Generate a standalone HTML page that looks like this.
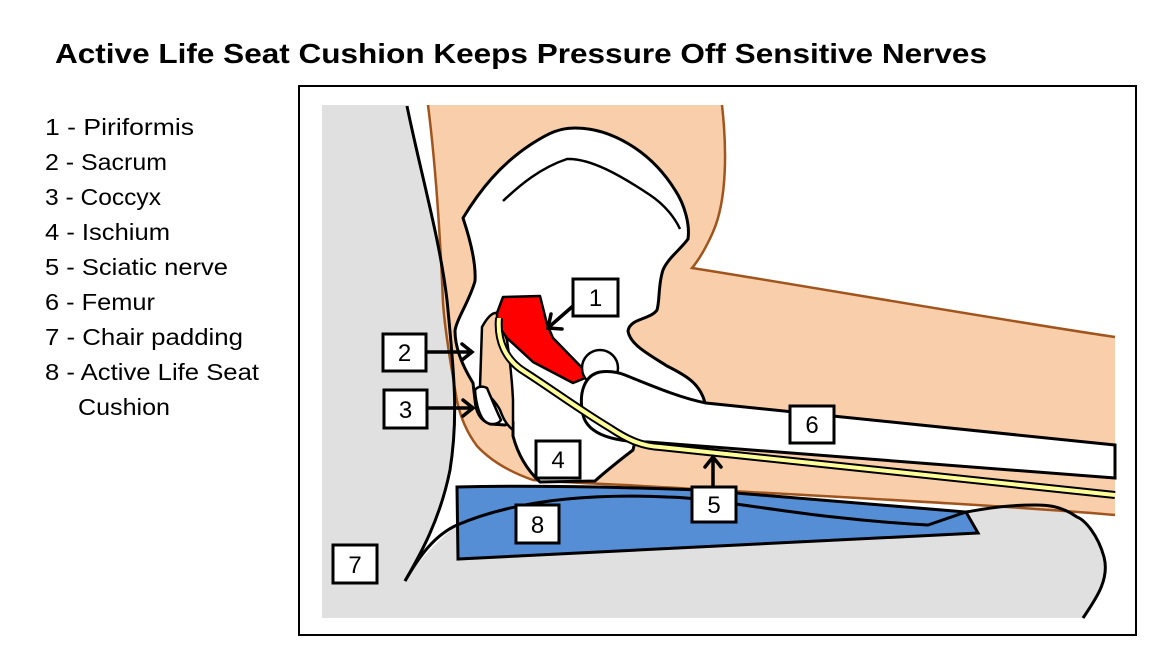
<!DOCTYPE html>
<html><head><meta charset="utf-8"><style>
html,body{margin:0;padding:0;background:#fff;}
svg{display:block;}
text{font-family:"Liberation Sans",sans-serif;}
</style></head><body>
<svg width="1163" height="667" viewBox="0 0 1163 667" xmlns="http://www.w3.org/2000/svg">
<text x="55" y="63" font-size="28" font-weight="bold" textLength="932" lengthAdjust="spacingAndGlyphs">Active Life Seat Cushion Keeps Pressure Off Sensitive Nerves</text>
<g font-size="23" fill="#000">
<text x="45" y="135" textLength="149" lengthAdjust="spacingAndGlyphs">1 - Piriformis</text>
<text x="45" y="170" textLength="122" lengthAdjust="spacingAndGlyphs">2 - Sacrum</text>
<text x="45" y="205" textLength="116" lengthAdjust="spacingAndGlyphs">3 - Coccyx</text>
<text x="45" y="240" textLength="125" lengthAdjust="spacingAndGlyphs">4 - Ischium</text>
<text x="45" y="275" textLength="183" lengthAdjust="spacingAndGlyphs">5 - Sciatic nerve</text>
<text x="45" y="310" textLength="110" lengthAdjust="spacingAndGlyphs">6 - Femur</text>
<text x="45" y="345" textLength="198" lengthAdjust="spacingAndGlyphs">7 - Chair padding</text>
<text x="45" y="380" textLength="214" lengthAdjust="spacingAndGlyphs">8 - Active Life Seat</text>
<text x="78" y="415" textLength="92" lengthAdjust="spacingAndGlyphs">Cushion</text>
</g>
<rect x="299" y="86" width="837" height="549" fill="#fff" stroke="#000" stroke-width="2"/>
<rect x="322" y="105" width="793" height="513" fill="#e0e0e0"/>
<path d="M407,105 L1115,105 L1115,618 L1083,618 C1095,600 1110,580 1104,557 C1098,535 1085,520 1077,517 C1060,505 1045,505 1035,505 C1000,505 980,510 966,512 L928,525 C800,518 720,498 667,497 C600,494 520,498 457,525 C432,545 412,570 405,581 C420,555 440,520 450,470 C458,420 455,380 447,300 C440,240 420,170 407,105 Z" fill="#fff"/>
<path d="M428,105 L722,105 C727,150 727,200 713,232 C705,250 697,262 692,268 C800,285 1000,320 1115,337 L1115,515 C1000,505 800,495 625,485 C580,483 545,481 533,480 C507,471 490,460 477,446 C465,430 460,415 457,401 C450,360 445,330 443,303 C440,230 435,160 428,105 Z" fill="#f9cfab"/>
<path d="M428,105 C435,160 440,230 443,303 C445,330 450,360 457,401 C460,415 465,430 477,446 C490,460 507,471 533,480 C545,481 580,483 625,485 C800,495 1000,505 1115,515" fill="none" stroke="#a0551e" stroke-width="2.5"/>
<path d="M722,105 C727,150 727,200 713,232 C705,250 697,262 692,268 C800,285 1000,320 1115,337" fill="none" stroke="#a0551e" stroke-width="2.5"/>
<path d="M407,106 C420,170 440,240 447,300 C455,380 458,420 450,470 C440,520 420,555 405,581" fill="none" stroke="#000" stroke-width="3"/>
<path d="M457,487 C520,485 620,487 700,490 L966,512 L978,533 L458,559 Z" fill="#558ed5" stroke="#000" stroke-width="3"/>
<path d="M405,581 C420,555 435,535 457,525 C520,498 600,494 667,497 C720,498 800,518 928,525 L966,512 C980,510 1000,505 1035,505 C1045,505 1060,505 1077,517 C1085,520 1098,535 1104,557 C1110,580 1095,600 1083,618" fill="none" stroke="#000" stroke-width="3"/>
<path d="M463,218 C480,190 500,165 530,145 C550,132 560,128 575,128 C610,128 650,150 675,190 C685,205 690,225 688,239 C680,250 668,258 663,270 C658,285 660,300 657,310 C650,320 630,318 628,331 C630,345 650,355 667,366 C685,375 700,383 705,403 L640,420 L633,450 C620,460 605,472 595,481 L540,482 C527,470 518,455 513,436 L513,422 L505,425 L490,424 C480,420 476,412 475,400 L473,383 C465,370 455,350 455,331 C456,320 470,300 475,281 C476,265 472,245 463,218 Z" fill="#fff" stroke="#000" stroke-width="3" stroke-linejoin="round"/>
<path d="M503,201 C520,185 540,168 567,159 C590,158 620,175 650,195 C665,205 675,218 680,229" fill="none" stroke="#000" stroke-width="2.5"/>
<path d="M482,327 C487,318 492,312 497,313 L507,340 C510,360 512,380 513,400 L513,430 C505,424 502,415 500,410 C495,400 485,392 480,387 Z" fill="#f9cfab" stroke="#000" stroke-width="2.5"/>
<path d="M475,390 C478,386 483,386 487,388 C492,400 497,412 501,420 C498,425 490,425 486,422 C480,418 476,405 475,390 Z" fill="#fff" stroke="#000" stroke-width="2.5"/>
<path d="M497,313 L503,297 L540,296 L547,324 L553,338 L590,376 L573,383 L533,362 L507,338 L497,324 Z" fill="#ff0000" stroke="#000" stroke-width="2.5" stroke-linejoin="round"/>
<circle cx="600" cy="368" r="18" fill="#fff" stroke="#000" stroke-width="2.5"/>
<path d="M600,372 C585,375 578,392 583,415 C588,435 615,442 648,442 L1115,478 L1115,445 L706,403 C680,398 650,385 625,375 C615,371 607,371 600,372 Z" fill="#fff" stroke="#000" stroke-width="3"/>
<path d="M499,318 C497,340 505,360 525,372 C550,388 580,410 610,428 C625,438 640,446 660,447 L1115,495" fill="none" stroke="#000" stroke-width="8"/>
<path d="M499,318 C497,340 505,360 525,372 C550,388 580,410 610,428 C625,438 640,446 660,447 L1115,495" fill="none" stroke="#ffff99" stroke-width="4"/>
<g stroke="#000" stroke-width="3.5" fill="none" stroke-linecap="round">
<line x1="573" y1="306" x2="549" y2="327"/><polyline points="551,314 548,328 562,329"/>
<line x1="426" y1="352" x2="471" y2="352"/><polyline points="462,344 472,352 462,360"/>
<line x1="427" y1="408" x2="472" y2="408"/><polyline points="463,400 473,408 463,416"/>
<line x1="713" y1="487" x2="713" y2="458"/><polyline points="705,467 713,457 721,467"/>
</g>
<g fill="#fff" stroke="#000" stroke-width="3">
<rect x="573" y="279" width="45" height="37"/>
<rect x="383" y="334" width="43" height="37"/>
<rect x="384" y="390" width="43" height="38"/>
<rect x="536" y="441" width="44" height="37"/>
<rect x="692" y="487" width="44" height="35"/>
<rect x="790" y="406" width="44" height="37"/>
<rect x="333" y="545" width="44" height="38"/>
<rect x="516" y="505" width="43" height="38"/>
</g>
<g font-size="24" text-anchor="middle" fill="#000">
<text x="595.5" y="306">1</text>
<text x="404.5" y="361">2</text>
<text x="405.5" y="418">3</text>
<text x="558" y="468">4</text>
<text x="714" y="513">5</text>
<text x="812" y="433">6</text>
<text x="355" y="573">7</text>
<text x="537.5" y="533">8</text>
</g>
</svg>
</body></html>
